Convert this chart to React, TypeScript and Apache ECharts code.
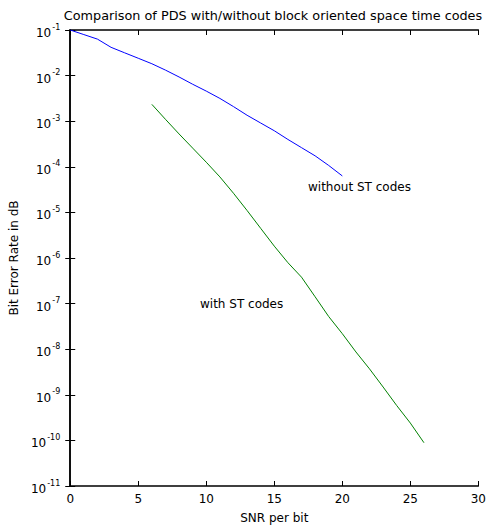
import React, { useEffect, useRef } from "react";
import * as echarts from "echarts";

const snrWithout = [0, 1, 2, 3, 4, 5, 6, 7, 8, 9, 10, 11, 12, 13, 14, 15, 16, 17, 18, 19, 20];
const berWithout = [
  0.1, 0.0794, 0.0631, 0.0417, 0.0316, 0.024, 0.0182, 0.0132, 0.00933, 0.00646, 0.00457,
  0.00316, 0.00209, 0.00135, 0.000912, 0.000617, 0.000398, 0.000263, 0.000174, 0.000107, 0.000063,
];
const snrWith = [6, 7, 8, 9, 10, 11, 12, 13, 14, 15, 16, 17, 18, 19, 20, 21, 22, 23, 24, 25, 26];
const berWith = [
  2.34e-3, 1.1e-3, 5.25e-4, 2.57e-4, 1.26e-4, 6.0e-5, 2.63e-5, 1.1e-5, 4.47e-6, 1.82e-6, 7.9e-7,
  3.8e-7, 1.41e-7, 5.2e-8, 2.19e-8, 8.7e-9, 3.7e-9, 1.48e-9, 5.8e-10, 2.4e-10, 8.9e-11,
];
const titleText = "Comparison of PDS with/without block oriented space time codes";
const xName = "SNR per bit";
const yName = "Bit Error Rate in dB";
const labelWithout = "without ST codes";
const labelWith = "with ST codes";

const FONT = "DejaVu Sans, Liberation Sans, Arial, sans-serif";

export default function App() {
  const ref = useRef<HTMLDivElement>(null);
  useEffect(() => {
    if (!ref.current) return;
    const chart = echarts.init(ref.current, null, { renderer: "svg" });
    const gridL = 69, gridR = 10, gridT = 30, gridB = 35;
    const supFmt = (v: number) => {
      const e = Math.round(Math.log10(v));
      return "{b|10}{s|" + e + "}";
    };
    const tickStyle = { show: true, inside: true, length: 5, lineStyle: { color: "#000", width: 1 } };
    const axisLineStyle = { show: true, lineStyle: { color: "#000", width: 1.5 } };
    chart.setOption({
      animation: false,
      backgroundColor: "#fff",
      textStyle: { fontFamily: FONT },
      grid: { left: gridL, right: gridR, top: gridT, bottom: gridB },
      xAxis: [
        {
          type: "value",
          min: 0,
          max: 30,
          interval: 5,
          position: "bottom",
          axisLine: axisLineStyle,
          axisTick: tickStyle,
          splitLine: { show: false },
          axisLabel: { color: "#000", fontSize: 12, margin: 7, fontFamily: FONT },
          name: xName,
          nameLocation: "middle",
          nameGap: 26,
          nameTextStyle: { color: "#000", fontSize: 12, fontFamily: FONT },
        },
        {
          type: "value",
          min: 0,
          max: 30,
          interval: 5,
          position: "top",
          axisLine: axisLineStyle,
          axisTick: tickStyle,
          splitLine: { show: false },
          axisLabel: { show: false },
        },
      ],
      yAxis: [
        {
          type: "log",
          logBase: 10,
          min: 1e-11,
          max: 1e-1,
          interval: 1,
          position: "left",
          axisLine: axisLineStyle,
          axisTick: tickStyle,
          minorTick: { show: false },
          splitLine: { show: false },
          axisLabel: {
            color: "#000",
            margin: 10,
            formatter: supFmt,
            rich: {
              b: { fontSize: 12, fontFamily: FONT, color: "#000", padding: [6, 0, 0, 0] },
              s: { fontSize: 8, fontFamily: FONT, color: "#000", padding: [0, 0, 6, 1] },
            },
          },
          name: yName,
          nameLocation: "middle",
          nameGap: 43,
          nameRotate: 90,
          nameTextStyle: { color: "#000", fontSize: 12, fontFamily: FONT },
        },
        {
          type: "log",
          logBase: 10,
          min: 1e-11,
          max: 1e-1,
          interval: 1,
          position: "right",
          axisLine: axisLineStyle,
          axisTick: tickStyle,
          splitLine: { show: false },
          axisLabel: { show: false },
        },
      ],
      graphic: [
        {
          type: "text",
          x: 273,
          y: 15,
          style: {
            text: titleText,
            fontSize: 12.8,
            fontFamily: FONT,
            fill: "#000",
            align: "center",
            verticalAlign: "middle",
          },
        },
        {
          type: "text",
          x: 308,
          y: 187,
          style: { text: labelWithout, fontSize: 12, fontFamily: FONT, fill: "#000", align: "left", verticalAlign: "middle" },
        },
        {
          type: "text",
          x: 200,
          y: 304,
          style: { text: labelWith, fontSize: 12, fontFamily: FONT, fill: "#000", align: "left", verticalAlign: "middle" },
        },
      ],
      series: [
        {
          type: "line",
          xAxisIndex: 0,
          yAxisIndex: 0,
          data: snrWithout.map((x, i) => [x, berWithout[i]]),
          showSymbol: false,
          lineStyle: { color: "#0000ff", width: 1 },
          itemStyle: { color: "#0000ff" },
        },
        {
          type: "line",
          xAxisIndex: 0,
          yAxisIndex: 0,
          data: snrWith.map((x, i) => [x, berWith[i]]),
          showSymbol: false,
          lineStyle: { color: "#008000", width: 1 },
          itemStyle: { color: "#008000" },
        },
      ],
    });
    return () => chart.dispose();
  }, []);
  return <div ref={ref} style={{ width: 489, height: 529, position: "absolute", left: 0, top: 0 }} />;
}
